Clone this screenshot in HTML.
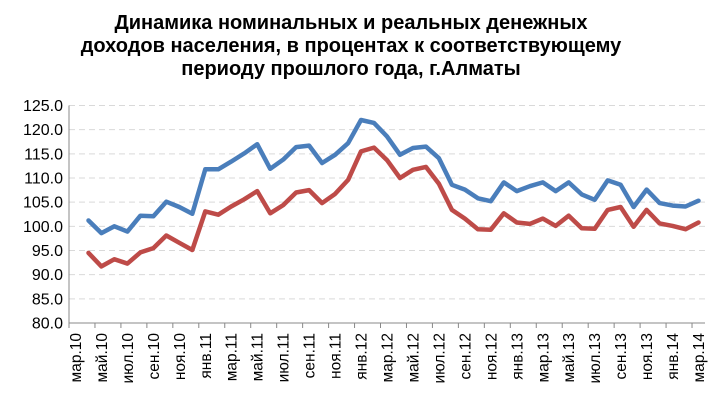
<!DOCTYPE html>
<html><head><meta charset="utf-8"><style>
body{margin:0;background:#fff;}
svg text{font-family:"Liberation Sans",Arial,sans-serif;}
</style></head><body>
<svg id="chart" width="719" height="414" xmlns="http://www.w3.org/2000/svg">
<g font-weight="bold" font-size="20" text-anchor="middle" fill="#000">
<text x="351" y="29">Динамика номинальных и реальных денежных</text>
<text x="351" y="52">доходов населения, в процентах к соответствующему</text>
<text x="351" y="75">периоду прошлого года, г.Алматы</text>
</g>
<g id="grid"></g>
<g id="yaxis"></g>
<g id="xaxis"></g>
<g id="series"></g>
</svg>
<script>
const months=["мар","апр","май","июн","июл","авг","сен","окт","ноя","дек","янв","фев"];
const categories=[];
for(let i=0;i<49;i++){const y=10+Math.floor((2+i)/12);categories.push(months[i%12]+"."+y);}
const yTicks=[80,85,90,95,100,105,110,115,120,125];
const nominal=[101.2,98.6,100,98.9,102.2,102.1,105.1,104,102.6,111.8,111.8,113.4,115.1,117,111.9,113.8,116.4,116.7,113.1,114.8,117.2,122,121.4,118.6,114.8,116.2,116.5,114.1,108.6,107.6,105.8,105.2,109.1,107.3,108.3,109.1,107.3,109.1,106.6,105.5,109.5,108.6,104,107.6,104.8,104.3,104.1,105.3];
const real=[94.5,91.7,93.2,92.3,94.6,95.5,98.1,96.6,95.1,103.1,102.4,104.1,105.6,107.3,102.7,104.4,107,107.5,104.8,106.7,109.6,115.5,116.3,113.7,110,111.7,112.3,108.8,103.4,101.6,99.4,99.3,102.7,100.8,100.5,101.6,100.1,102.2,99.6,99.5,103.4,104,99.9,103.4,100.6,100.1,99.4,100.8];
const dataOffset=1;
const NS="http://www.w3.org/2000/svg";
const X0=69,X1=705,Y0=323,Y1=105.5,YMIN=80,YMAX=125;
const cw=(X1-X0)/categories.length;
const xs=i=>X0+(i+0.5)*cw;
const ys=v=>Y0-(v-YMIN)/(YMAX-YMIN)*(Y0-Y1);
function mk(t,a,p){const e=document.createElementNS(NS,t);for(const k in a)e.setAttribute(k,a[k]);p.appendChild(e);return e;}
const grid=document.getElementById('grid'),ya=document.getElementById('yaxis'),xa=document.getElementById('xaxis'),se=document.getElementById('series');
yTicks.forEach(v=>{
 if(v>YMIN){const l=mk('line',{x1:X0,x2:X1,y1:ys(v),y2:ys(v),stroke:'#d9d9d9','stroke-dasharray':'6,4','stroke-width':1},grid);
 
 }
 const t=mk('text',{x:63,y:ys(v)+5.5,'text-anchor':'end','font-size':16,fill:'#000'},ya);
 t.textContent=v.toFixed(1);
 
 
});
mk('line',{x1:X0,x2:X0,y1:Y1,y2:Y0,stroke:'#888'},ya);
mk('line',{x1:X0,x2:X1,y1:Y0,y2:Y0,stroke:'#888'},xa);
for(let i=0;i<=categories.length;i+=2){mk('line',{x1:X0+i*cw,x2:X0+i*cw,y1:Y0,y2:Y0+5,stroke:'#888'},xa);}
categories.forEach((c,i)=>{if(i%2)return;
 const x=xs(i)+5.5,y=333;
 const t=mk('text',{x:x,y:y,transform:`rotate(-90 ${x} ${y})`,'text-anchor':'end','font-size':15.5,fill:'#000'},xa);
 t.textContent=c;
 
 
});
function line(vals,color,name){
 const d=vals.map((v,i)=>(i?'L':'M')+xs(i+dataOffset).toFixed(1)+' '+ys(v).toFixed(1)).join(' ');
 const p=mk('path',{d:d,fill:'none',stroke:color,'stroke-width':4.5,'stroke-linejoin':'round','stroke-linecap':'round'},se);
 
 
}
line(nominal,'#4a7ebb','nominal-income-line');
line(real,'#be4b48','real-income-line');
</script>
</body></html>
